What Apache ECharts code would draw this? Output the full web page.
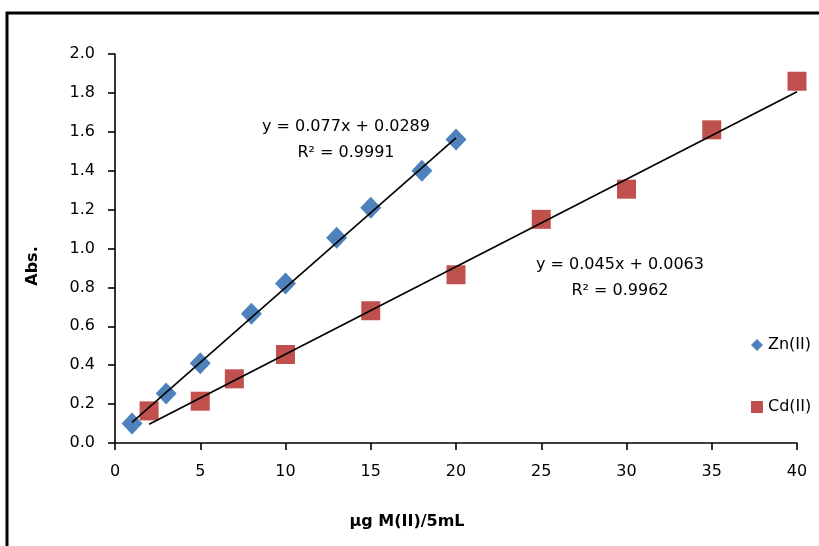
<!DOCTYPE html>
<html>
<head>
<meta charset="utf-8">
<script src="https://cdn.jsdelivr.net/npm/echarts@6/dist/echarts.min.js"></script>
<style>
  html, body { margin: 0; padding: 0; background: #fff; }
  #chart { width: 819px; height: 546px; }
</style>
</head>
<body>
<div id="chart"></div>
<script>
// Calibration data: absorbance vs. amount of metal ion (µg per 5 mL)
const znConc = [1, 3, 5, 8, 10, 13, 15, 18, 20];
const znAbs  = [0.10, 0.255, 0.41, 0.665, 0.82, 1.055, 1.21, 1.40, 1.56];
const cdConc = [2, 5, 7, 10, 15, 20, 25, 30, 35, 40];
const cdAbs  = [0.165, 0.215, 0.33, 0.455, 0.68, 0.865, 1.15, 1.305, 1.61, 1.86];

// Linear least-squares fits as reported on the chart
const znSlope = 0.077, znIntercept = 0.0289, znR2 = '0.9991';
const cdSlope = 0.045, cdIntercept = 0.0063, cdR2 = '0.9962';

const xTicks = [0, 5, 10, 15, 20, 25, 30, 35, 40];
const yTicks = [0.0, 0.2, 0.4, 0.6, 0.8, 1.0, 1.2, 1.4, 1.6, 1.8, 2.0];

const FONT = '"DejaVu Sans", "Liberation Sans", sans-serif';

function pairs(xs, ys) { return xs.map((x, i) => [x, ys[i]]); }
function fitLine(xs, slope, intercept) {
  const x0 = Math.min(...xs), x1 = Math.max(...xs);
  return [[x0, slope * x0 + intercept], [x1, slope * x1 + intercept]];
}

const chart = echarts.init(document.getElementById('chart'), null, { renderer: 'canvas' });

const axisCommon = {
  axisLine: { show: true, lineStyle: { color: '#000', width: 1.6 } },
  axisTick: { show: true, inside: false, length: 7, lineStyle: { color: '#000', width: 1.6 } },
  splitLine: { show: false },
  axisLabel: { color: '#000', fontSize: 16, fontFamily: FONT }
};

chart.setOption({
  animation: false,
  backgroundColor: '#fff',
  grid: { left: 115, right: 22, top: 54, bottom: 103, containLabel: false },
  xAxis: Object.assign({}, axisCommon, {
    type: 'value',
    min: xTicks[0], max: xTicks[xTicks.length - 1], interval: 5,
    axisLabel: Object.assign({}, axisCommon.axisLabel, { margin: 21 })
  }),
  yAxis: Object.assign({}, axisCommon, {
    type: 'value',
    min: yTicks[0], max: yTicks[yTicks.length - 1], interval: 0.2,
    axisLabel: Object.assign({}, axisCommon.axisLabel, {
      margin: 20,
      formatter: v => v.toFixed(1)
    })
  }),
  legend: {
    data: ['Zn(II)', 'Cd(II)'],
    orient: 'vertical',
    left: 746, top: 332,
    itemWidth: 12, itemHeight: 12, itemGap: 46,
    textStyle: { color: '#000', fontSize: 16, fontFamily: FONT }
  },
  series: [
    {
      name: 'Zn(II)', type: 'scatter',
      symbol: 'diamond', symbolSize: [21, 22],
      itemStyle: { color: '#4F81BD', opacity: 1 },
      data: pairs(znConc, znAbs), z: 3
    },
    {
      name: 'Cd(II)', type: 'scatter',
      symbol: 'rect', symbolSize: 19,
      itemStyle: { color: '#C0504D', opacity: 1 },
      data: pairs(cdConc, cdAbs), z: 3
    },
    {
      name: 'Zn fit', type: 'line', showSymbol: false, symbol: 'none',
      lineStyle: { color: '#000', width: 1.6 },
      data: fitLine(znConc, znSlope, znIntercept), z: 4
    },
    {
      name: 'Cd fit', type: 'line', showSymbol: false, symbol: 'none',
      lineStyle: { color: '#000', width: 1.6 },
      data: fitLine(cdConc, cdSlope, cdIntercept), z: 4
    }
  ],
  graphic: [
    // outer frame
    { type: 'rect', shape: { x: 7, y: 13, width: 1000, height: 1000 },
      style: { fill: null, stroke: '#000', lineWidth: 3 }, silent: true },
    // fit equations
    { type: 'text', x: 346, y: 140,
      style: { text: 'y = ' + znSlope + 'x + ' + znIntercept + '\nR\u00B2 = ' + znR2,
               font: '16px ' + FONT, fill: '#000', align: 'center', verticalAlign: 'middle', lineHeight: 26 } },
    { type: 'text', x: 620, y: 278,
      style: { text: 'y = ' + cdSlope + 'x + ' + cdIntercept + '\nR\u00B2 = ' + cdR2,
               font: '16px ' + FONT, fill: '#000', align: 'center', verticalAlign: 'middle', lineHeight: 26 } },
    // axis titles
    { type: 'text', x: 407, y: 522,
      style: { text: '\u00B5g M(II)/5mL', font: 'bold 16px ' + FONT, fill: '#000',
               align: 'center', verticalAlign: 'middle' } },
    { type: 'text', x: 33, y: 266, rotation: Math.PI / 2,
      style: { text: 'Abs.', font: 'bold 16px ' + FONT, fill: '#000',
               align: 'center', verticalAlign: 'middle' } }
  ]
});
</script>
</body>
</html>
